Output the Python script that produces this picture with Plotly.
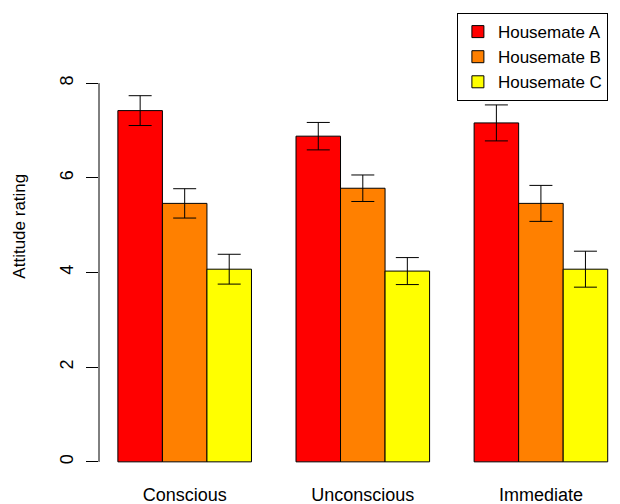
import plotly.graph_objects as go

conditions = ["Conscious", "Unconscious", "Immediate"]
series_names = ["Housemate A", "Housemate B", "Housemate C"]
means_a = [7.42, 6.88, 7.16]
means_b = [5.46, 5.78, 5.46]
means_c = [4.07, 4.03, 4.07]
se_a = [0.315, 0.29, 0.38]
se_b = [0.31, 0.28, 0.38]
se_c = [0.315, 0.285, 0.38]
colors = ["#FF0000", "#FF8000", "#FFFF00"]
y_ticks = [0, 2, 4, 6, 8]

FONT = "Liberation Sans, Arial, sans-serif"
FS = 18

fig = go.Figure()
for name, means, ses, col in zip(series_names, [means_a, means_b, means_c],
                                 [se_a, se_b, se_c], colors):
    fig.add_trace(go.Bar(
        x=conditions, y=means, name=name,
        marker=dict(color=col, line=dict(color="black", width=1)),
        error_y=dict(type="data", array=ses, visible=True,
                     color="black", thickness=1, width=11.5),
    ))

# page has an 8px body margin; figure placed at (8, 8)
OFF = 8
W, H = 620 - OFF, 504 - OFF
left, right = 99.3 - OFF, 620 - OFF
top, bottom = 68.2 - OFF, 476.8 - OFF
pw = right - left

fig.update_layout(
    width=W, height=H,
    margin=dict(l=left, r=W - right, t=top, b=H - bottom, pad=0,
                autoexpand=False),
    paper_bgcolor="white", plot_bgcolor="white",
    barmode="group", bargap=0.25, bargroupgap=0,
    font=dict(family=FONT, size=FS, color="black"),
    showlegend=True,
    legend=dict(
        x=(457 - OFF - left) / pw, xanchor="left",
        y=(bottom - 5.3) / (bottom - top), yanchor="top",
        bordercolor="black", borderwidth=1, bgcolor="white",
        font=dict(family=FONT, size=17),
        tracegroupgap=0, traceorder="normal",
    ),
    xaxis=dict(
        range=[-0.481, 2.444], showline=False, showgrid=False,
        zeroline=False, ticks="", ticklabelstandoff=5,
        tickfont=dict(size=FS),
    ),
    yaxis=dict(
        range=[-0.32, 8.32], showline=False, showgrid=False,
        zeroline=False, tickvals=y_ticks, ticks="outside", ticklen=12,
        tickcolor="black", tickwidth=1, tickangle=-90,
        ticklabelstandoff=6, tickfont=dict(size=FS),
    ),
    shapes=[dict(type="line", xref="paper", yref="y", x0=0, x1=0,
                 y0=y_ticks[0], y1=y_ticks[-1],
                 line=dict(color="black", width=1))],
    annotations=[dict(text="Attitude rating", xref="paper", yref="paper",
                      x=0, y=(bottom - (226 - OFF)) / (bottom - top),
                      xanchor="center", yanchor="middle",
                      xshift=20 - 99.3, textangle=-90, showarrow=False,
                      font=dict(family=FONT, size=17))],
)

fig.write_html("out.html")
